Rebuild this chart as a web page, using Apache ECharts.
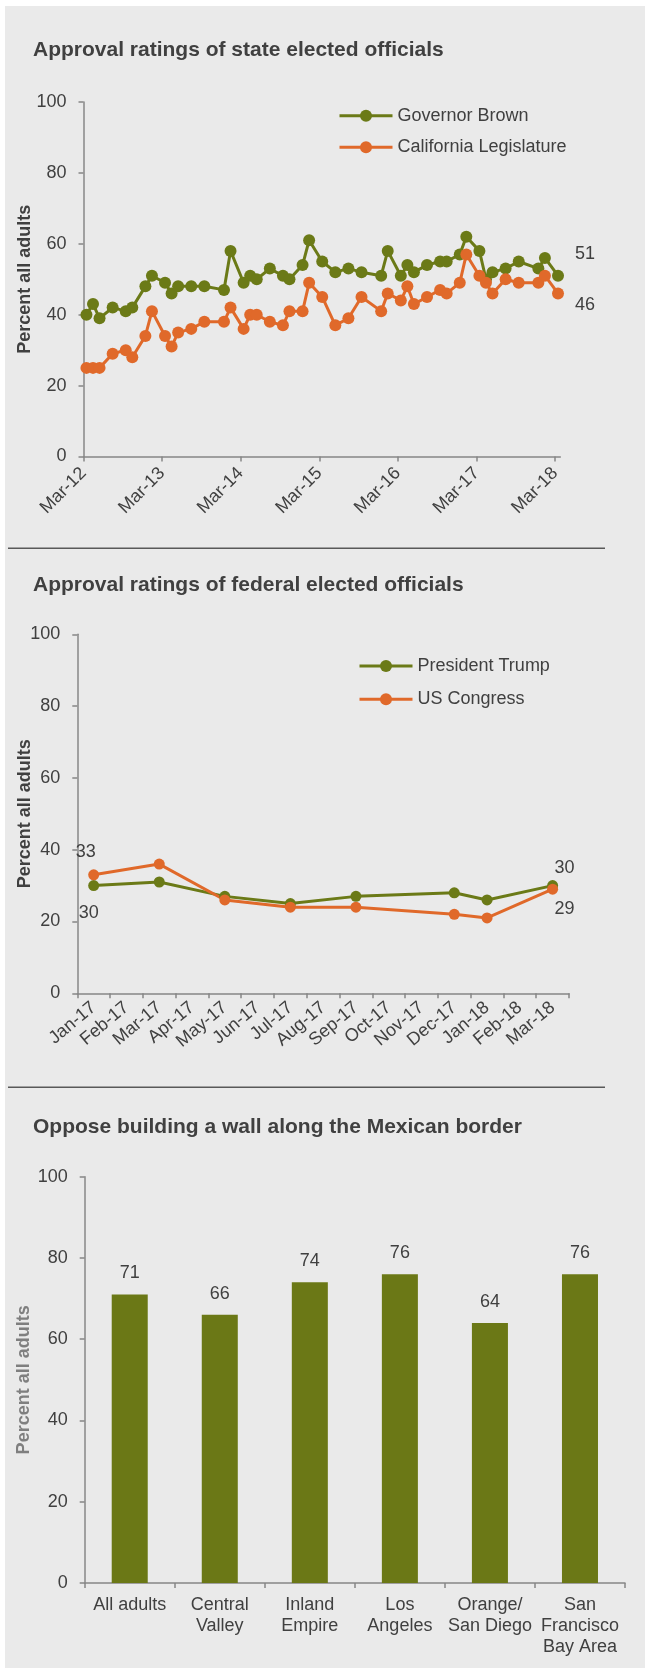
<!DOCTYPE html>
<html><head><meta charset="utf-8">
<script src="https://cdn.jsdelivr.net/npm/echarts@6/dist/echarts.min.js"></script>
<style>html,body{margin:0;padding:0;background:#fff}#c{width:645px;height:1669px}</style>
</head><body><div id="c"></div><script>
// ---------- Chart 1: state elected officials ----------
const stateMonths = ['2012-03','2012-04','2012-05','2012-07','2012-09','2012-10','2012-12',
  '2013-01','2013-03','2013-04','2013-05','2013-07','2013-09','2013-12',
  '2014-01','2014-03','2014-04','2014-05','2014-07','2014-09','2014-10','2014-12',
  '2015-01','2015-03','2015-05','2015-07','2015-09','2015-12',
  '2016-01','2016-03','2016-04','2016-05','2016-07','2016-09','2016-10','2016-12',
  '2017-01','2017-03','2017-04','2017-05','2017-07','2017-09','2017-12',
  '2018-01','2018-03'];
const governorBrown = [40,43,39,42,41,42,48, 51,49,46,48,48,48,47, 58,49,51,50,53,51,50,54,
  61,55,52,53,52,51, 58,51,54,52,54,55,55,57, 62,58,50,52,53,55,53, 56,51];
const caLegislature = [25,25,25,29,30,28,34, 41,34,31,35,36,38,38, 42,36,40,40,38,37,41,41,
  49,45,37,39,45,41, 46,44,48,43,45,47,46,49, 57,51,49,46,50,49,49, 51,46];
const stateTickLabels = ['Mar-12','Mar-13','Mar-14','Mar-15','Mar-16','Mar-17','Mar-18'];

// ---------- Chart 2: federal elected officials ----------
const fedMonths = ['Jan-17','Feb-17','Mar-17','Apr-17','May-17','Jun-17','Jul-17','Aug-17',
  'Sep-17','Oct-17','Nov-17','Dec-17','Jan-18','Feb-18','Mar-18'];
const presidentTrump = [30,null,31,null,27,null,25,null,27,null,null,28,26,null,30];
const usCongress     = [33,null,36,null,26,null,24,null,24,null,null,22,21,null,29];

// ---------- Chart 3: oppose wall ----------
const regions = ['All adults','Central\nValley','Inland\nEmpire','Los\nAngeles','Orange/\nSan Diego','San\nFrancisco\nBay Area'];
const opposeWall = [71,66,74,76,64,76];

const FONT = '"Liberation Sans", Arial, sans-serif';
const GREEN = '#6B7A17', ORANGE = '#E0692A', BAR = '#6B7816';
const TEXT = '#404040', AXIS = '#878787';

function monthPos(s){ const p = s.split('-').map(Number); return (p[0]-2012)*12 + (p[1]-3) + 0.45; }

function lastLabel(arr, offset){
  return arr.map((v,i)=> i===arr.length-1 ? {value:v, label:{show:true, position:'right', offset:offset}} : v);
}

const s1g = stateMonths.map((m,i)=>[monthPos(m), governorBrown[i]]);
const s1o = stateMonths.map((m,i)=>[monthPos(m), caLegislature[i]]);

function pointLabels(arr, first, last){
  return arr.map((v,i)=>{
    if (i===0) return {value:v, label:Object.assign({show:true}, first)};
    if (i===arr.length-1) return {value:v, label:Object.assign({show:true}, last)};
    return v;
  });
}

const axisLine = {show:true, lineStyle:{color:AXIS, width:1.5}};
const axisTick = {show:true, length:5, lineStyle:{color:AXIS, width:1.5}};
const labelStyle = {color:TEXT, fontFamily:FONT, fontSize:18};

function yAxis(gridIndex, nameGap, nameColor){
  return {type:'value', gridIndex, min:0, max:100, interval:20,
    name:'Percent all adults', nameLocation:'middle', nameGap, nameMoveOverlap:false,
    nameTextStyle:{color:nameColor, fontFamily:FONT, fontSize:18, fontWeight:'bold'},
    axisLine, axisTick, splitLine:{show:false},
    axisLabel:Object.assign({margin:17}, labelStyle)};
}

const legendCommon = {orient:'vertical', itemWidth:53, itemHeight:15,
  lineStyle:{width:3}, textStyle:{color:TEXT, fontFamily:FONT, fontSize:18, lineHeight:20}};

const option = {
  backgroundColor:'#ffffff',
  animation:false,
  textStyle:{fontFamily:FONT},
  graphic:[
    {type:'rect', z:-100, shape:{x:5,y:6,width:640,height:1662}, style:{fill:'#EAEAEA'}, silent:true},
    {type:'line', shape:{x1:8,y1:548.3,x2:605,y2:548.3}, style:{stroke:'#595959', lineWidth:1.5}},
    {type:'line', shape:{x1:8,y1:1087.3,x2:605,y2:1087.3}, style:{stroke:'#595959', lineWidth:1.5}}
  ],
  title:[
    {text:'Approval ratings of state elected officials', left:28, top:35,
      textStyle:{color:TEXT, fontFamily:FONT, fontSize:21, fontWeight:'bold'}},
    {text:'Approval ratings of federal elected officials', left:28, top:570,
      textStyle:{color:TEXT, fontFamily:FONT, fontSize:21, fontWeight:'bold'}},
    {text:'Oppose building a wall along the Mexican border', left:28, top:1112,
      textStyle:{color:TEXT, fontFamily:FONT, fontSize:21, fontWeight:'bold'}}
  ],
  legend:[
    Object.assign({data:['Governor Brown','California Legislature'], left:333, top:100.7, itemGap:11.6}, legendCommon),
    Object.assign({data:['President Trump','US Congress'], left:353, top:651, itemGap:13.3}, legendCommon)
  ],
  grid:[
    {left:83.5, top:102, width:476.8, height:354.5},
    {left:77.3, top:634.3, width:491.7, height:359},
    {left:84.7, top:1176.7, width:540.3, height:406.3}
  ],
  xAxis:[
    {type:'value', gridIndex:0, min:0, max:72.8,
      axisLine, splitLine:{show:false},
      axisTick:Object.assign({customValues: stateTickLabels.map((_,i)=>i*12)}, axisTick),
      axisLabel:Object.assign({customValues: stateTickLabels.map((_,i)=>i*12), rotate:45, margin:14,
        formatter:v=>stateTickLabels[Math.round(v/12)]}, labelStyle)},
    {type:'category', gridIndex:1, data:fedMonths, boundaryGap:true,
      axisLine, axisTick:Object.assign({interval:0}, axisTick),
      axisLabel:Object.assign({interval:0, rotate:40, margin:12}, labelStyle)},
    {type:'category', gridIndex:2, data:regions, boundaryGap:true,
      axisLine, axisTick:Object.assign({interval:0}, axisTick),
      axisLabel:Object.assign({interval:0, margin:12, lineHeight:21}, labelStyle)}
  ],
  yAxis:[ yAxis(0, 49.5, TEXT), yAxis(1, 43.3, TEXT), yAxis(2, 51.7, '#7F7F7F') ],
  series:[
    {name:'Governor Brown', type:'line', xAxisIndex:0, yAxisIndex:0,
      data:lastLabel(s1g,[6,-22]), symbol:'circle', symbolSize:12,
      lineStyle:{width:3, color:GREEN}, itemStyle:{color:GREEN},
      label:{color:TEXT, fontFamily:FONT, fontSize:18, formatter:p=>p.value[1]}},
    {name:'California Legislature', type:'line', xAxisIndex:0, yAxisIndex:0,
      data:lastLabel(s1o,[6,12]), symbol:'circle', symbolSize:12,
      lineStyle:{width:3, color:ORANGE}, itemStyle:{color:ORANGE},
      label:{color:TEXT, fontFamily:FONT, fontSize:18, formatter:p=>p.value[1]}},
    {name:'President Trump', type:'line', xAxisIndex:1, yAxisIndex:1, connectNulls:true,
      data:pointLabels(presidentTrump, {position:'bottom', offset:[-5,8]}, {position:'top', offset:[12,2]}),
      symbol:'circle', symbolSize:11,
      lineStyle:{width:3, color:GREEN}, itemStyle:{color:GREEN},
      label:{color:TEXT, fontFamily:FONT, fontSize:18}},
    {name:'US Congress', type:'line', xAxisIndex:1, yAxisIndex:1, connectNulls:true,
      data:pointLabels(usCongress, {position:'top', offset:[-8,-3]}, {position:'bottom', offset:[12,0]}),
      symbol:'circle', symbolSize:11,
      lineStyle:{width:3, color:ORANGE}, itemStyle:{color:ORANGE},
      label:{color:TEXT, fontFamily:FONT, fontSize:18}},
    {name:'Oppose wall', type:'bar', xAxisIndex:2, yAxisIndex:2, data:opposeWall,
      barWidth:'40%', itemStyle:{color:BAR},
      label:{show:true, position:'top', distance:12, color:TEXT, fontFamily:FONT, fontSize:18}}
  ]
};
const chart = echarts.init(document.getElementById('c'), null, {renderer:'canvas'});
chart.setOption(option);
</script></body></html>
